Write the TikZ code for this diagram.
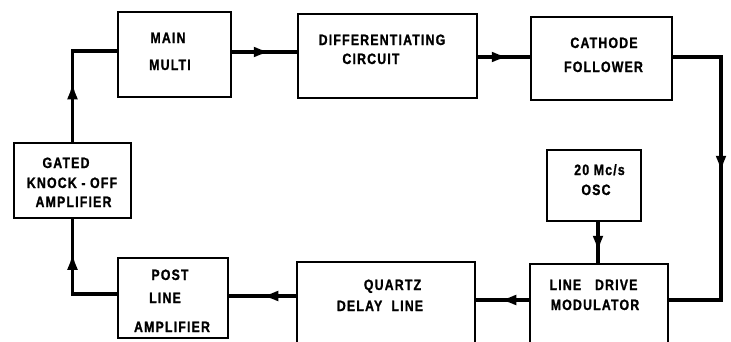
\documentclass[tikz,border=0pt]{standalone}
\usepackage{fontspec}
\setmainfont{Liberation Sans}[FakeStretch=0.82, LetterSpace=8, BoldFeatures={FakeBold=1.2}]
\usetikzlibrary{arrows.meta,decorations.markings}
\tikzset{
  blk/.style={draw, line width=1.5pt, inner sep=0pt},
  lbl/.style={anchor=base, inner sep=0pt, font=\fontsize{15}{17}\selectfont\bfseries},
  wire/.style={line width=3.2pt},
  tipat/.style={postaction={decorate}, decoration={markings, mark=at position #1 with {\arrow{Latex[length=17pt,width=11pt]}}}}
}
\begin{document}
\begin{tikzpicture}[x=1pt,y=-1pt]
\path[use as bounding box] (0,0) rectangle (731,341);
\clip (0,0) rectangle (731,341);
% boxes
\node[blk, minimum width=113pt, minimum height=85pt] (mm)  at (174.5,54.5) {};
\node[blk, minimum width=179pt, minimum height=84pt] (dc)  at (387.5,56) {};
\node[blk, minimum width=141pt, minimum height=83pt] (cf)  at (601.5,58.5) {};
\node[blk, minimum width=117pt, minimum height=75pt] (gka) at (72.5,180.5) {};
\node[blk, minimum width=94pt,  minimum height=71pt] (osc) at (594,185.5) {};
\node[blk, minimum width=110pt, minimum height=80pt] (pla) at (173,298) {};
\node[blk, minimum width=178pt, minimum height=108pt] (qdl) at (386,316) {};
\node[blk, minimum width=138pt, minimum height=106pt] (ldm) at (599,317) {};
% labels
\node[lbl] (mm1) at (168,43) {MAIN};
\node[lbl] (mm2) at (170,70) {MULTI};
\node[lbl] (dc1) at (382,45) {DIFFERENTIATING};
\node[lbl] (dc2) at (371,64) {CIRCUIT};
\node[lbl] (cf1) at (604,48) {CATHODE};
\node[lbl] (cf2) at (603.5,72) {FOLLOWER};
\node[lbl] (gk1) at (66,168) {GATED};
\node[lbl] (gk2) at (72,188) {KNOCK - OFF};
\node[lbl] (gk3) at (73.5,207) {AMPLIFIER};
\node[lbl] (os1) at (599.5,175) {20 Mc/s};
\node[lbl] (os2) at (596,195) {OSC};
\node[lbl] (pl1) at (170,280) {POST};
\node[lbl] (pl2) at (165,303) {LINE};
\node[lbl] (pl3) at (172,332) {AMPLIFIER};
\node[lbl] (qd1) at (392.5,290) {QUARTZ};
\node[lbl] (qd2) at (380,311) {DELAY\ \ LINE};
\node[lbl] (ld1) at (593.5,290) {LINE\ \ \ DRIVE};
\node[lbl] (ld2) at (595,310) {MODULATOR};
% bend coordinates
\coordinate (ytop) at (0,51);
\coordinate (ymd) at (0,52);
\coordinate (ydc) at (0,57);
\coordinate (rtop) at (721,57);
\coordinate (rbot) at (721,300);
\coordinate (yld) at (0,300);
\coordinate (yqd) at (0,296);
\coordinate (ypl) at (0,294);
\coordinate (xosc) at (598,0);
% connectors
\draw[wire, tipat=60pt] (gka.north) -- (gka.north |- ytop) -- (mm.west |- ytop);
\draw[wire, tipat=39pt] (mm.east |- ymd) -- (dc.west |- ymd);
\draw[wire, tipat=31pt] (dc.east |- ydc) -- (cf.west |- ydc);
\draw[wire, tipat=164pt] (cf.east |- rtop) -- (rtop) -- (rbot) -- (ldm.east |- rbot);
\draw[wire, tipat=31pt] (xosc |- osc.south) -- (xosc |- ldm.north);
\draw[wire, tipat=30pt] (ldm.west |- yld) -- (qdl.east |- yld);
\draw[wire, tipat=35pt] (qdl.west |- yqd) -- (pla.east |- yqd);
\draw[wire, tipat=86pt] (pla.west |- ypl) -- (gka.south |- ypl) -- (gka.south);
\end{tikzpicture}
\end{document}
